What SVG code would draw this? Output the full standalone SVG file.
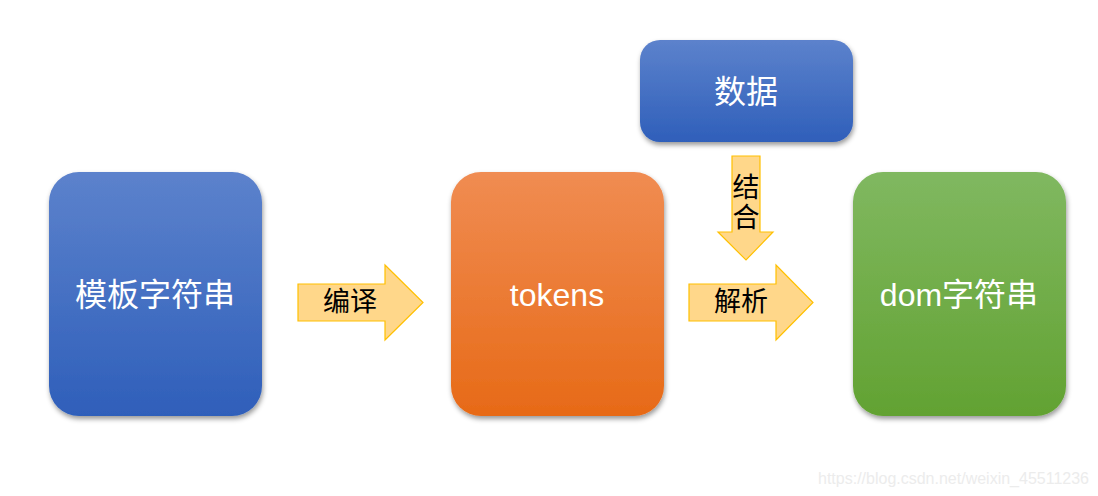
<svg xmlns="http://www.w3.org/2000/svg" width="1098" height="496" viewBox="0 0 1098 496">
<style>
.box{filter:url(#sh);}
.t{font-family:"Liberation Sans","Noto Sans CJK SC",sans-serif;fill:#fff;font-size:32px;text-anchor:middle;dominant-baseline:central;}
.lbl{font-family:"Liberation Sans","Noto Sans CJK SC",sans-serif;fill:#000;font-size:27px;text-anchor:middle;dominant-baseline:central;}
.arr{fill:#FFD78A;stroke:#FFC000;stroke-width:1.2;}
.wm{font-family:"Liberation Sans",sans-serif;fill:#ececec;font-size:16px;}
</style>
<defs>
<linearGradient id="gb" x1="0" y1="0" x2="0" y2="1"><stop offset="0" stop-color="#5C82CC"/><stop offset="1" stop-color="#2F5FBA"/></linearGradient>
<linearGradient id="go" x1="0" y1="0" x2="0" y2="1"><stop offset="0" stop-color="#F08C52"/><stop offset="1" stop-color="#E76A17"/></linearGradient>
<linearGradient id="gg" x1="0" y1="0" x2="0" y2="1"><stop offset="0" stop-color="#80B860"/><stop offset="1" stop-color="#62A232"/></linearGradient>
<filter id="sh" x="-10%" y="-10%" width="125%" height="125%"><feDropShadow dx="1" dy="3" stdDeviation="2.5" flood-color="#000" flood-opacity="0.4"/></filter>
</defs>
<g id="node-template">
<rect class="box" x="49" y="172" width="213" height="244" rx="30" fill="url(#gb)"/>
<text class="t" x="155" y="295">模板字符串</text>
</g>
<g id="node-tokens">
<rect class="box" x="451" y="172" width="213" height="244" rx="30" fill="url(#go)"/>
<text class="t" x="557" y="295">tokens</text>
</g>
<g id="node-data">
<rect class="box" x="640" y="40" width="213" height="102" rx="20" fill="url(#gb)"/>
<text class="t" x="746" y="92">数据</text>
</g>
<g id="node-dom">
<rect class="box" x="853" y="172" width="213" height="244" rx="30" fill="url(#gg)"/>
<text class="t" x="959" y="295">dom字符串</text>
</g>
<g id="connectors">
<g id="arrow-compile">
<polygon class="arr" points="298,284 385,284 385,265 423,302.5 385,340 385,321 298,321"/>
<text class="lbl" x="350" y="302">编译</text>
</g>
<g id="arrow-combine">
<polygon class="arr" points="732,156 760,156 760,232 773,232 746,260 718,232 732,232"/>
<text class="lbl" x="746" y="188">结</text>
<text class="lbl" x="746" y="218">合</text>
</g>
<g id="arrow-parse">
<polygon class="arr" points="689,284 776,284 776,265 813,302.5 776,340 776,321 689,321"/>
<text class="lbl" x="741" y="302">解析</text>
</g>
</g>
<text class="wm" x="818" y="484">https://blog.csdn.net/weixin_45511236</text>
</svg>
